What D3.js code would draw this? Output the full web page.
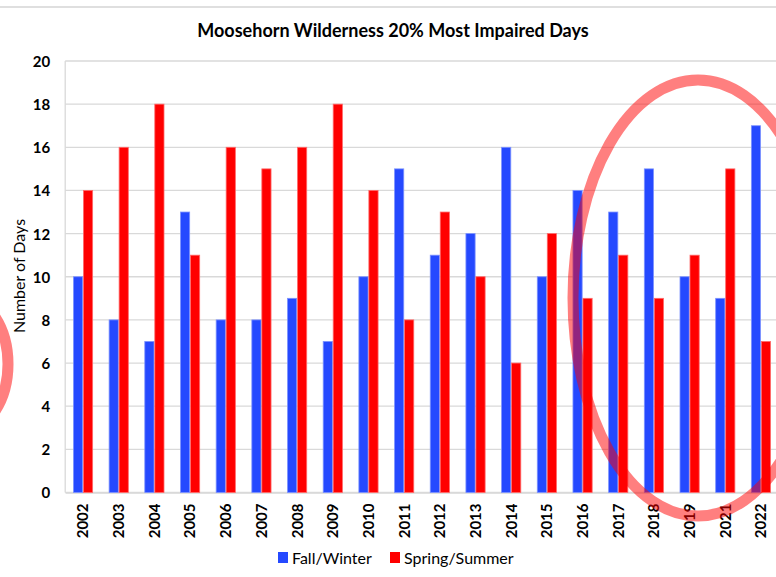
<!DOCTYPE html>
<html>
<head>
<meta charset="utf-8">
<script src="https://cdn.jsdelivr.net/npm/d3@7"></script>
<style>
  body { margin: 0; background: #fff; }
  svg text { font-family: Lato, "Open Sans", sans-serif; fill: #000; }
</style>
</head>
<body>
<div id="chart"></div>
<script>
// chart data
var years = ["2002", "2003", "2004", "2005", "2006", "2007", "2008", "2009", "2010", "2011",
             "2012", "2013", "2014", "2015", "2016", "2017", "2018", "2019", "2021", "2022"];
var fallWinter   = [10, 8, 7, 13, 8, 8, 9, 7, 10, 15, 11, 12, 16, 10, 14, 13, 15, 10, 9, 17];
var springSummer = [14, 16, 18, 11, 16, 15, 16, 18, 14, 8, 13, 10, 6, 12, 9, 11, 9, 11, 15, 7];
var seriesNames = ["Fall/Winter", "Spring/Summer"];
var yTicks = [0, 2, 4, 6, 8, 10, 12, 14, 16, 18, 20];

var colors = { "Fall/Winter": "#2549ff", "Spring/Summer": "#ff0000" };
var strokes = { "Fall/Winter": "#7d93ff", "Spring/Summer": "#ff6a6a" };

var width = 776, height = 577;
var plotLeft = 65.2, plotRight = 778.8, plotTop = 61, plotBottom = 492.5;

var svg = d3.select("#chart").append("svg")
  .attr("width", width)
  .attr("height", height);

// top border of the chart area
svg.append("line")
  .attr("x1", 0).attr("x2", width)
  .attr("y1", 7).attr("y2", 7)
  .style("stroke", "#d4d4d4").style("stroke-width", 1.5);

svg.append("text")
  .attr("x", 393).attr("y", 37)
  .attr("text-anchor", "middle")
  .style("font-size", "18px").style("font-weight", "bold")
  .text("Moosehorn Wilderness 20% Most Impaired Days");

var x = d3.scaleBand().domain(years).range([plotLeft, plotRight]).paddingInner(0).paddingOuter(0);
var x1 = d3.scaleBand().domain(seriesNames).range([x.bandwidth() / 2 - 10, x.bandwidth() / 2 + 10]);
var y = d3.scaleLinear().domain([0, 20]).range([plotBottom, plotTop]);

// gridlines
svg.append("g")
  .selectAll("line")
  .data(yTicks)
  .join("line")
  .attr("x1", plotLeft).attr("x2", width)
  .attr("y1", function(d) { return y(d); })
  .attr("y2", function(d) { return y(d); })
  .style("stroke", "#d9d9d9").style("stroke-width", 1.3);

// left border
svg.append("line")
  .attr("x1", plotLeft).attr("x2", plotLeft)
  .attr("y1", plotTop).attr("y2", plotBottom)
  .style("stroke", "#d9d9d9").style("stroke-width", 1.3);

// y axis
var yAxis = svg.append("g")
  .attr("transform", "translate(" + (plotLeft - 15) + ",0)")
  .call(d3.axisLeft(y).tickValues(yTicks).tickSize(0).tickPadding(0));
yAxis.select(".domain").remove();
yAxis.selectAll("text")
  .attr("dy", "0.36em")
  .style("font-size", "15px").style("font-weight", "bold");

svg.append("text")
  .attr("transform", "translate(25,276) rotate(-90)")
  .attr("text-anchor", "middle")
  .style("font-size", "16px")
  .text("Number of Days");

// x axis labels
var xAxis = svg.append("g")
  .attr("transform", "translate(0," + plotBottom + ")")
  .call(d3.axisBottom(x).tickSize(0).tickPadding(0));
xAxis.select(".domain")
  .style("stroke", "#d9d9d9").style("stroke-width", 1.3);
xAxis.selectAll("text")
  .attr("transform", "rotate(-90)")
  .attr("text-anchor", "end")
  .attr("x", -11).attr("y", 0).attr("dy", "0.36em")
  .style("font-size", "15px").style("font-weight", "bold");

// bars
var rows = years.map(function(yr, i) {
  return { year: yr, values: [
    { name: "Fall/Winter", value: fallWinter[i] },
    { name: "Spring/Summer", value: springSummer[i] }
  ]};
});

svg.append("g")
  .selectAll("g")
  .data(rows)
  .join("g")
  .attr("transform", function(d) { return "translate(" + x(d.year) + ",0)"; })
  .selectAll("rect")
  .data(function(d) { return d.values; })
  .join("rect")
  .attr("x", function(d) { return x1(d.name) + 0.4; })
  .attr("width", x1.bandwidth() - 0.8)
  .attr("y", function(d) { return y(d.value); })
  .attr("height", function(d) { return plotBottom - y(d.value); })
  .style("fill", function(d) { return colors[d.name]; })
  .style("stroke", function(d) { return strokes[d.name]; })
  .style("stroke-width", 0.8);

// legend
var legendX = [278, 390];
var legend = svg.append("g");
seriesNames.forEach(function(name, i) {
  legend.append("rect")
    .attr("x", legendX[i]).attr("y", 552)
    .attr("width", 10).attr("height", 11)
    .style("fill", colors[name]);
  legend.append("text")
    .attr("x", legendX[i] + 14).attr("y", 564)
    .style("font-size", "16px")
    .text(name);
});

// hand-drawn highlight ellipses
svg.append("ellipse")
  .attr("cx", 698).attr("cy", 298)
  .attr("rx", 125).attr("ry", 218)
  .style("fill", "none")
  .style("stroke", "rgba(255,0,0,0.5)")
  .style("stroke-width", 11);

svg.append("ellipse")
  .attr("cx", -42).attr("cy", 364)
  .attr("rx", 50).attr("ry", 70)
  .style("fill", "none")
  .style("stroke", "rgba(255,0,0,0.5)")
  .style("stroke-width", 11);
</script>
</body>
</html>
